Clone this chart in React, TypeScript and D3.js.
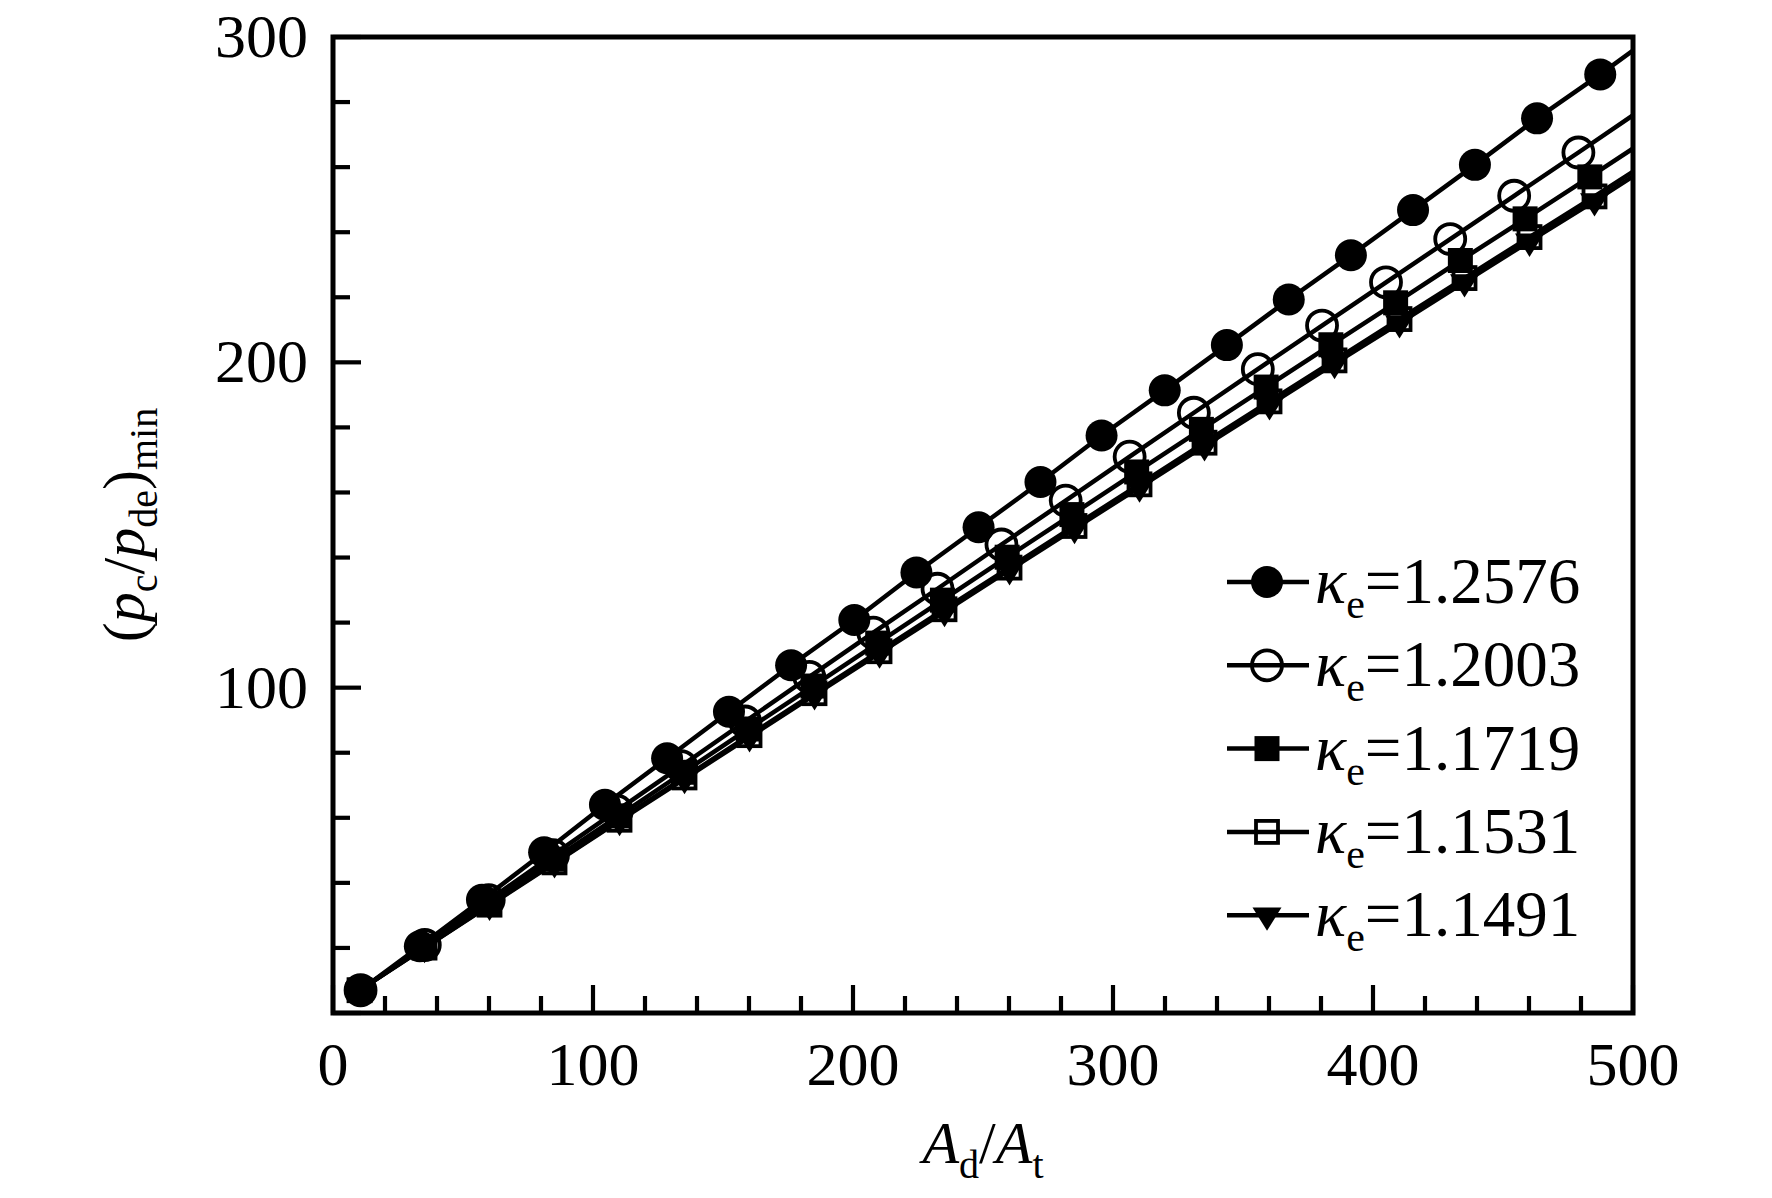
import * as d3 from "d3";

// A_d/A_t and (p_c/p_de)_min, one pair of arrays per curve
const xK12576 = [10.5, 33.4, 57.3, 81.2, 104.6, 128.5, 152.3, 176.2, 200.5, 224.4, 248.3, 272.1, 295.6, 319.9, 343.8, 367.6, 391.5, 415.4, 439.2, 463.1, 487.4, 511.2];
const yK12576 = [7.0, 20.5, 34.8, 49.4, 64.0, 78.3, 92.6, 106.9, 120.8, 135.4, 149.3, 163.2, 177.5, 191.4, 205.3, 219.3, 232.9, 246.8, 260.7, 275.0, 288.5, 302.4];

const xK12003 = [10.6, 35.3, 59.9, 84.6, 109.2, 133.9, 158.5, 183.2, 207.8, 232.5, 257.1, 281.8, 306.4, 331.1, 355.7, 380.4, 405.0, 429.7, 454.3, 479.0, 503.6];
const yK12003 = [7.0, 20.9, 34.7, 48.5, 62.2, 75.9, 89.6, 103.3, 116.9, 130.4, 144.0, 157.5, 171.0, 184.5, 197.9, 211.3, 224.6, 237.9, 251.2, 264.5, 277.9];

const xK11719 = [10.3, 35.2, 60.1, 85.0, 109.9, 134.8, 159.7, 184.6, 209.5, 234.4, 259.3, 284.2, 309.1, 334.0, 358.9, 383.8, 408.7, 433.6, 458.5, 483.4, 508.3];
const yK11719 = [7.0, 20.5, 33.9, 47.3, 60.6, 74.0, 87.3, 100.5, 113.7, 126.9, 140.1, 153.2, 166.3, 179.4, 192.4, 205.4, 218.3, 231.3, 244.1, 257.0, 270.1];

const xK11531 = [10.2, 35.2, 60.2, 85.2, 110.2, 135.2, 160.2, 185.2, 210.2, 235.2, 260.2, 285.2, 310.2, 335.2, 360.2, 385.2, 410.2, 435.2, 460.2, 485.2, 510.2];
const yK11531 = [7.0, 20.1, 33.3, 46.3, 59.4, 72.4, 85.4, 98.3, 111.2, 124.1, 136.9, 149.7, 162.5, 175.3, 188.0, 200.6, 213.3, 225.9, 238.5, 251.0, 263.9];

const xK11491 = [10.2, 35.2, 60.2, 85.2, 110.2, 135.2, 160.2, 185.2, 210.2, 235.2, 260.2, 285.2, 310.2, 335.2, 360.2, 385.2, 410.2, 435.2, 460.2, 485.2, 510.2];
const yK11491 = [7.0, 20.1, 33.1, 46.1, 59.1, 72.0, 84.9, 97.8, 110.6, 123.4, 136.2, 148.9, 161.6, 174.3, 186.9, 199.6, 212.1, 224.7, 237.2, 249.6, 262.4];

const kappaValues = ["1.2576", "1.2003", "1.1719", "1.1531", "1.1491"];
const markerKinds = ["circleFilled", "circleOpen", "squareFilled", "squareOpen", "triangleDown"];

const xTickLabels = ["0", "100", "200", "300", "400", "500"];
const yTickLabels = ["100", "200", "300"];

const series = [
  { xs: xK12576, ys: yK12576 },
  { xs: xK12003, ys: yK12003 },
  { xs: xK11719, ys: yK11719 },
  { xs: xK11531, ys: yK11531 },
  { xs: xK11491, ys: yK11491 },
].map((s, i) => ({
  kappa: kappaValues[i],
  marker: markerKinds[i],
  points: s.xs.map((x, j) => [x, s.ys[j]] as [number, number]),
}));

const W = 1772;
const H = 1198;
const margin = { left: 333, right: 139, top: 37, bottom: 185 };
const FONT = "'Liberation Serif', 'Times New Roman', serif";
const LW = 4.5;

const xScale = d3.scaleLinear().domain([0, 500]).range([margin.left, W - margin.right]);
const yScale = d3.scaleLinear().domain([0, 300]).range([H - margin.bottom, margin.top]);

function Marker({ kind, cx, cy }: { kind: string; cx: number; cy: number }) {
  switch (kind) {
    case "circleFilled":
      return <circle cx={cx} cy={cy} r={16} fill="#000" />;
    case "circleOpen":
      return <circle cx={cx} cy={cy} r={15} fill="none" stroke="#000" strokeWidth={3.8} />;
    case "squareFilled":
      return <rect x={cx - 12.5} y={cy - 12.5} width={25} height={25} fill="#000" />;
    case "squareOpen":
      return (
        <rect x={cx - 11} y={cy - 11} width={22} height={22} fill="none" stroke="#000" strokeWidth={3.8} />
      );
    default: {
      const p = d3.path();
      p.moveTo(cx - 14.5, cy - 7.8);
      p.lineTo(cx + 14.5, cy - 7.8);
      p.lineTo(cx, cy + 15.6);
      p.closePath();
      return <path d={p.toString()} fill="#000" />;
    }
  }
}

export default function App() {
  const [x0, x1] = xScale.range();
  const [y0, y1] = yScale.range();
  const line = d3
    .line<[number, number]>()
    .x((d) => xScale(d[0]))
    .y((d) => yScale(d[1]));

  const xTicks = d3.range(0, 501, 20);
  const yTicks = d3.range(0, 301, 20);

  const legendX = 1227;
  const legendY0 = 582;
  const legendStep = 83.3;

  return (
    <svg
      width={W}
      height={H}
      style={{ position: "absolute", left: 0, top: 0, background: "#fff" }}
      fontFamily={FONT}
    >
      <defs>
        <clipPath id="plotArea">
          <rect x={x0} y={y1} width={x1 - x0} height={y0 - y1} />
        </clipPath>
      </defs>
      <rect width={W} height={H} fill="#fff" />

      {/* curves */}
      <g clipPath="url(#plotArea)">
        {series.map((s) => (
          <g key={s.kappa}>
            <path d={line(s.points) ?? ""} fill="none" stroke="#000" strokeWidth={LW} strokeLinejoin="round" />
            {s.points
              .filter((d) => d[0] <= 500)
              .map((d, j) => (
                <Marker key={j} kind={s.marker} cx={xScale(d[0])} cy={yScale(d[1])} />
              ))}
          </g>
        ))}
      </g>

      {/* ticks, pointing inward */}
      <g stroke="#000" strokeWidth={4.2}>
        {xTicks.map((v) => (
          <line key={"xt" + v} x1={xScale(v)} x2={xScale(v)} y1={y0} y2={y0 - (v % 100 === 0 ? 28 : 17)} />
        ))}
        {yTicks.map((v) => (
          <line key={"yt" + v} x1={x0} x2={x0 + (v % 100 === 0 ? 28 : 17)} y1={yScale(v)} y2={yScale(v)} />
        ))}
      </g>
      <rect x={x0} y={y1} width={x1 - x0} height={y0 - y1} fill="none" stroke="#000" strokeWidth={5} />

      {/* tick labels */}
      <g fontSize={62} fill="#000">
        {xTickLabels.map((t) => (
          <text key={"xl" + t} x={xScale(+t)} y={1085} textAnchor="middle">
            {t}
          </text>
        ))}
        {yTickLabels.map((t) => (
          <text key={"yl" + t} x={x0 - 25} y={yScale(+t) + 20} textAnchor="end">
            {t}
          </text>
        ))}
      </g>

      {/* axis titles */}
      <text x={(x0 + x1) / 2} y={1163} textAnchor="middle" fontSize={60} fill="#000">
        <tspan fontStyle="italic">A</tspan>
        <tspan fontSize={40} dy={15}>d</tspan>
        <tspan dy={-15}>/</tspan>
        <tspan fontStyle="italic">A</tspan>
        <tspan fontSize={40} dy={15}>t</tspan>
      </text>
      <g transform={`translate(144,${(y0 + y1) / 2}) rotate(-90)`}>
        <text x={0} y={0} textAnchor="middle" fontSize={60} fill="#000">
          <tspan>(</tspan>
          <tspan fontStyle="italic">p</tspan>
          <tspan fontSize={40} dy={13}>c</tspan>
          <tspan dy={-13}>/</tspan>
          <tspan fontStyle="italic">p</tspan>
          <tspan fontSize={40} dy={13}>de</tspan>
          <tspan dy={-13}>)</tspan>
          <tspan fontSize={40} dy={13}>min</tspan>
        </text>
      </g>

      {/* legend */}
      {series.map((s, i) => {
        const cy = legendY0 + i * legendStep;
        return (
          <g key={"lg" + s.kappa}>
            <line x1={legendX} x2={legendX + 82} y1={cy} y2={cy} stroke="#000" strokeWidth={LW} />
            <Marker kind={s.marker} cx={legendX + 40} cy={cy} />
            <text x={1315} y={cy + 21} fontSize={65} fill="#000">
              <tspan fontStyle="italic">κ</tspan>
              <tspan fontSize={42} dy={15}>e</tspan>
              <tspan dy={-15}>={s.kappa}</tspan>
            </text>
          </g>
        );
      })}
    </svg>
  );
}
